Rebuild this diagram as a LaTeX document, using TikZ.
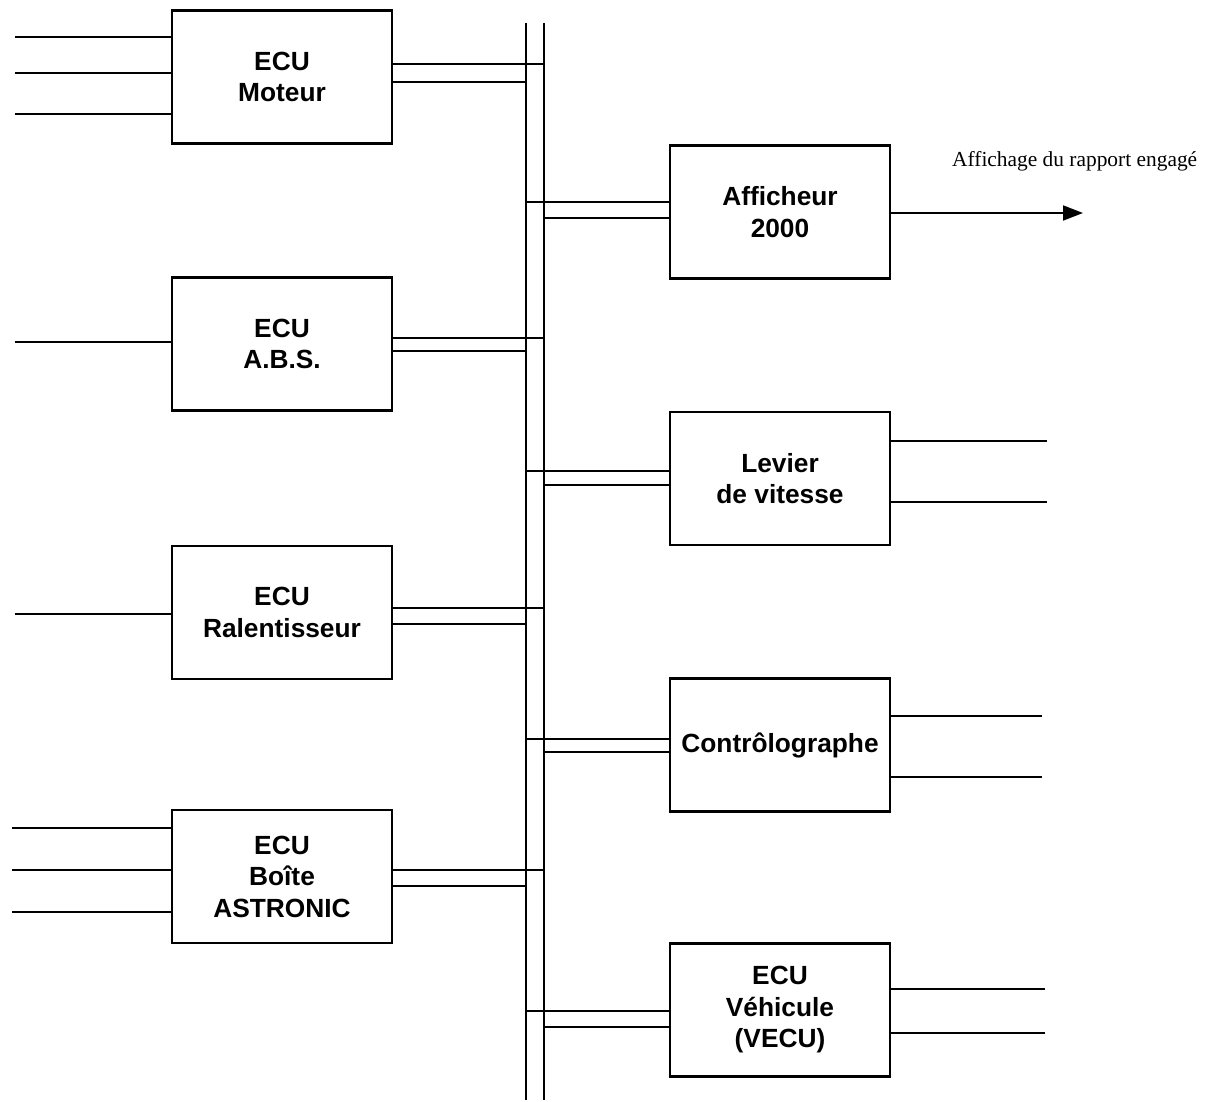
\documentclass[tikz,border=0pt]{standalone}
\usepackage{fontspec}
\setmainfont{Liberation Serif}
\newfontfamily\boxfont{Liberation Sans}
\usetikzlibrary{arrows.meta}
\begin{document}
\begin{tikzpicture}[x=1pt,y=-1pt,
  ecubox/.style={draw,line width=2.3pt,minimum width=220pt,minimum height=133pt,inner sep=0pt,align=center,
    font=\boxfont\bfseries\fontsize{26.3}{31.5}\selectfont},
  wire/.style={line width=1.9pt},
  busline/.style={line width=1.7pt}]
\useasboundingbox (0,0) rectangle (1211,1102);
% boxes
\node[ecubox] (mot) at (282,77) {ECU\\Moteur};
\node[ecubox] (abs) at (282,344) {ECU\\A.B.S.};
\node[ecubox] (ral) at (282,612.5) {ECU\\Ralentisseur};
\node[ecubox] (boi) at (282,876.5) {ECU\\Boîte\\ASTRONIC};
\node[ecubox] (aff) at (780,212) {Afficheur\\2000};
\node[ecubox] (lev) at (780,478.5) {Levier\\de vitesse};
\node[ecubox] (con) at (780,745) {Contrôlographe};
\node[ecubox] (vec) at (780,1010) {ECU\\Véhicule\\(VECU)};
% bus
\coordinate (blt) at (526,23);
\coordinate (blb) at (526,1100);
\coordinate (brt) at (544,23);
\coordinate (brb) at (544,1100);
\draw[busline] (blt) -- (blb);
\draw[busline] (brt) -- (brb);
% left boxes to bus
\draw[wire] (mot.east |- 0,64) -- (brt |- 0,64);
\draw[wire] (mot.east |- 0,82) -- (blt |- 0,82);
\draw[wire] (abs.east |- 0,338) -- (brt |- 0,338);
\draw[wire] (abs.east |- 0,351) -- (blt |- 0,351);
\draw[wire] (ral.east |- 0,608) -- (brt |- 0,608);
\draw[wire] (ral.east |- 0,624) -- (blt |- 0,624);
\draw[wire] (boi.east |- 0,870) -- (brt |- 0,870);
\draw[wire] (boi.east |- 0,886) -- (blt |- 0,886);
% bus to right boxes
\draw[wire] (blt |- 0,202) -- (aff.west |- 0,202);
\draw[wire] (brt |- 0,218) -- (aff.west |- 0,218);
\draw[wire] (blt |- 0,471) -- (lev.west |- 0,471);
\draw[wire] (brt |- 0,485) -- (lev.west |- 0,485);
\draw[wire] (blt |- 0,739) -- (con.west |- 0,739);
\draw[wire] (brt |- 0,752) -- (con.west |- 0,752);
\draw[wire] (blt |- 0,1011) -- (vec.west |- 0,1011);
\draw[wire] (brt |- 0,1027) -- (vec.west |- 0,1027);
% left inputs
\coordinate (im1) at (15,37);
\coordinate (im2) at (15,73);
\coordinate (im3) at (15,114);
\coordinate (ia1) at (15,342);
\coordinate (ir1) at (15,614);
\coordinate (ib1) at (12,828);
\coordinate (ib2) at (12,870);
\coordinate (ib3) at (12,912);
\foreach \c/\b in {im1/mot,im2/mot,im3/mot,ia1/abs,ir1/ral,ib1/boi,ib2/boi,ib3/boi}
  \draw[wire] (\c) -- (\b.west |- \c);
% right outputs
\coordinate (ol1) at (1047,441);
\coordinate (ol2) at (1047,502);
\coordinate (oc1) at (1042,716);
\coordinate (oc2) at (1042,777);
\coordinate (ov1) at (1045,989);
\coordinate (ov2) at (1045,1033);
\foreach \c/\b in {ol1/lev,ol2/lev,oc1/con,oc2/con,ov1/vec,ov2/vec}
  \draw[wire] (\b.east |- \c) -- (\c);
% display arrow
\coordinate (arr) at (1083,213);
\draw[wire,-{Triangle[length=20pt,width=15pt]}] (aff.east |- arr) -- (arr);
\node[anchor=base west,inner sep=0pt,font=\fontsize{21.4}{25}\selectfont] (lbl) at (952,167) {Affichage du rapport engagé};
\end{tikzpicture}
\end{document}
